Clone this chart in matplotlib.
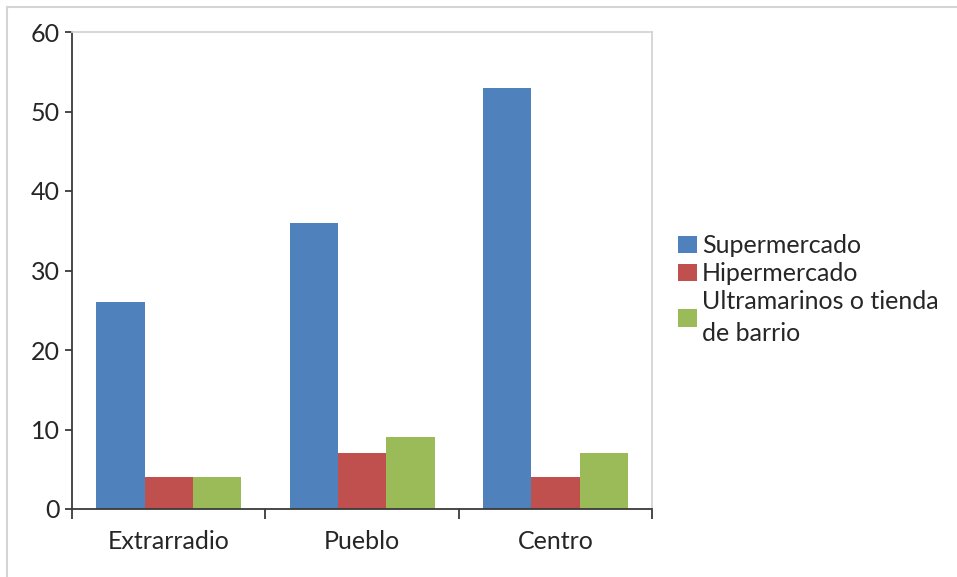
import matplotlib
matplotlib.use('Agg')
import matplotlib.pyplot as plt
from matplotlib.lines import Line2D
from matplotlib.patches import Patch
import numpy as np

# Tipo de comercio preferido segun la zona de residencia
zonas = ['Extrarradio', 'Pueblo', 'Centro']
series = ['Supermercado', 'Hipermercado', 'Ultramarinos o tienda\nde barrio']
supermercado = [26, 36, 53]
hipermercado = [4, 7, 4]
ultramarinos = [4, 9, 7]
colores = ['#4F81BD', '#C0504D', '#9BBB59']

plt.rcParams['font.family'] = ['Lato', 'DejaVu Sans']

fig = plt.figure(figsize=(9.57, 5.77), dpi=100)
W, H = 957.0, 577.0
ax = fig.add_axes([72 / W, (H - 509) / H, 580 / W, (509 - 32) / H])

x = np.arange(len(zonas))
width = 0.25
for i, (vals, col) in enumerate(zip([supermercado, hipermercado, ultramarinos],
                                    colores)):
    ax.bar(x + (i - 1) * width, vals, width, color=col, label=series[i])

ax.set_xlim(-0.5, len(zonas) - 0.5)
ax.set_ylim(0, 60)
ax.set_yticks(range(0, 61, 10))
ax.set_xticks(x)
ax.set_xticklabels(zonas)
ax.set_xticks(np.arange(-0.5, len(zonas), 1.0), minor=True)

dark = '#3a3a3a'
for side in ('left', 'bottom'):
    ax.spines[side].set_color(dark)
    ax.spines[side].set_linewidth(1.3)
for side in ('top', 'right'):
    ax.spines[side].set_color('#d4d4d4')
    ax.spines[side].set_linewidth(1.3)

fs = 18
ax.tick_params(axis='y', length=5, width=1.3, color=dark, pad=4,
               labelsize=fs, labelcolor='#262626')
ax.tick_params(axis='x', which='major', length=0, pad=15,
               labelsize=fs, labelcolor='#262626')
ax.tick_params(axis='x', which='minor', length=7, width=1.3, color=dark)

handles = [Patch(facecolor=c, edgecolor='none') for c in colores]
leg = fig.legend(handles, series, loc='upper left',
                 bbox_to_anchor=(678 / W, 1 - 234 / H), frameon=False,
                 fontsize=fs, handlelength=0.75, handleheight=0.7,
                 handletextpad=0.2, labelspacing=0.2, borderaxespad=0,
                 borderpad=0, labelcolor='#262626')
for t in leg.get_texts():
    t.set_linespacing(1.45)

# marco exterior del grafico
fig.add_artist(Line2D([7 / W, 7 / W], [0, 1 - 7 / H],
                      transform=fig.transFigure, color='#d4d4d4', lw=1.5))
fig.add_artist(Line2D([7 / W, 1], [1 - 7 / H, 1 - 7 / H],
                      transform=fig.transFigure, color='#d4d4d4', lw=1.5))

fig.savefig('out.png', dpi=100)
